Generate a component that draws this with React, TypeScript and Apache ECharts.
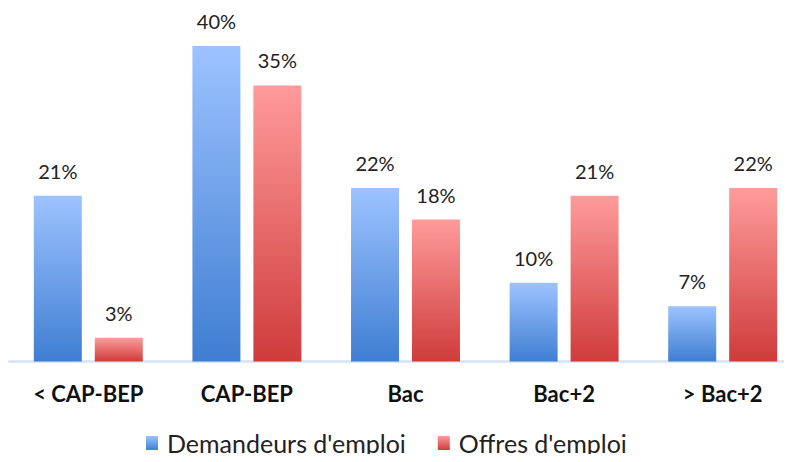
import React, { useEffect, useRef } from "react";
import * as echarts from "echarts";

const categories = ["< CAP-BEP", "CAP-BEP", "Bac", "Bac+2", "> Bac+2"];
const demandeurs = [21, 40, 22, 10, 7];
const offres = [3, 35, 18, 21, 22];
const seriesNames = ["Demandeurs d'emploi", "Offres d'emploi"];

const FONT = "Lato, 'Open Sans', sans-serif";

const blueGrad = new echarts.graphic.LinearGradient(0, 0, 0, 1, [
  { offset: 0, color: "#9DC3FF" },
  { offset: 1, color: "#3F7ED2" },
]);
const redGrad = new echarts.graphic.LinearGradient(0, 0, 0, 1, [
  { offset: 0, color: "#FF9B9B" },
  { offset: 1, color: "#CF3B3B" },
]);

export default function App() {
  const ref = useRef<HTMLDivElement>(null);
  useEffect(() => {
    if (!ref.current) return;
    const chart = echarts.init(ref.current, undefined, { renderer: "svg" });
    const label = {
      show: true,
      position: "top",
      distance: 15,
      formatter: "{c}%",
      fontFamily: FONT,
      fontSize: 20,
      color: "#222",
    };
    chart.setOption({
      animation: false,
      grid: { left: 9, right: 10, top: 46, bottom: 100.5, containLabel: false },
      legend: {
        top: 429,
        left: 146,
        padding: 0,
        itemWidth: 12,
        itemHeight: 14,
        itemGap: 32,
        icon: "rect",
        textStyle: { fontFamily: FONT, fontSize: 25, lineHeight: 28, color: "#222", padding: [0, 0, 0, 4] },
        data: seriesNames,
      },
      xAxis: {
        type: "category",
        data: categories,
        axisLine: { lineStyle: { color: "#D5E3F3", width: 2.5 } },
        axisTick: { show: false },
        axisLabel: {
          fontFamily: FONT,
          fontWeight: "bold",
          fontSize: 22,
          color: "#111",
          margin: 21,
        },
      },
      yAxis: {
        type: "value",
        min: 0,
        max: 40,
        show: false,
        splitLine: { show: false },
      },
      series: [
        {
          name: seriesNames[0],
          type: "bar",
          data: demandeurs,
          barWidth: 48,
          barGap: "27%",
          itemStyle: { color: blueGrad },
          label,
        },
        {
          name: seriesNames[1],
          type: "bar",
          data: offres,
          barWidth: 48,
          barGap: "27%",
          itemStyle: { color: redGrad },
          label,
        },
      ],
    });
    return () => chart.dispose();
  }, []);
  return (
    <div style={{ width: 792, height: 462, margin: -8, overflow: "hidden" }}>
      <div ref={ref} style={{ width: 812, height: 462 }} />
    </div>
  );
}
